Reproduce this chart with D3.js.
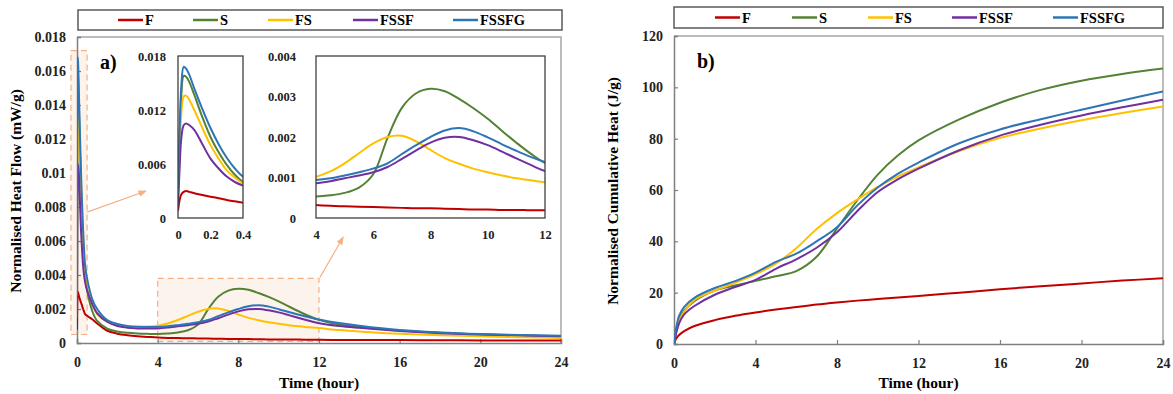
<!DOCTYPE html>
<html>
<head>
<meta charset="utf-8">
<script src="https://cdn.jsdelivr.net/npm/d3@7/dist/d3.min.js"></script>
<style>
  body { margin: 0; background: #fff; }
  svg { font-family: "Liberation Serif", "Times New Roman", serif; font-weight: bold; }
</style>
</head>
<body>
<svg id="chart" width="1173" height="394"></svg>
<script>
// series names / colours
var names = ['F', 'S', 'FS', 'FSSF', 'FSSFG'];
var colors = ['#c00000', '#548235', '#ffc000', '#7030a0', '#2e75b6'];

// a) heat flow, mW/g
var hfTime = [0, 0.01, 0.02, 0.035, 0.05, 0.07, 0.1, 0.15, 0.2, 0.25, 0.3, 0.35, 0.4,
  0.5, 0.75, 1, 1.5, 2, 2.5, 3, 3.5, 4, 4.5, 5, 5.5, 6, 6.5, 7, 7.5, 8, 8.5, 9, 9.5,
  10, 10.5, 11, 11.5, 12, 13, 14, 16, 18, 20, 22, 24];
var hfF = [0.0008, 0.0020, 0.0026, 0.0029, 0.0030, 0.0029, 0.00275, 0.00255, 0.00237, 0.0022, 0.0020, 0.00185, 0.0017,
  0.0016, 0.0014, 0.00115, 0.00072, 0.00055, 0.00046, 0.0004, 0.00036, 0.00032, 0.0003, 0.00029, 0.00028, 0.00027, 0.00026, 0.00025, 0.00024, 0.00024, 0.00023, 0.00022, 0.00021,
  0.00021, 0.0002, 0.0002, 0.00019, 0.00019, 0.00018, 0.00018, 0.00017, 0.00016, 0.00015, 0.00015, 0.00014];
var hfS = [0.0025, 0.009, 0.0135, 0.0158, 0.0157, 0.0151, 0.0137, 0.0112, 0.0090, 0.0073, 0.0059, 0.0048, 0.0040,
  0.0031, 0.0019, 0.0013, 0.00085, 0.00068, 0.0006, 0.00056, 0.00054, 0.00053, 0.00056, 0.00062, 0.00075, 0.00108, 0.00198, 0.00272, 0.00308, 0.00319, 0.00313, 0.00294, 0.00271,
  0.00245, 0.00215, 0.00186, 0.00159, 0.00136, 0.00109, 0.00094, 0.00074, 0.0006, 0.0005, 0.00043, 0.00038];
var hfFS = [0.002, 0.0075, 0.0115, 0.0135, 0.0136, 0.0131, 0.0120, 0.0100, 0.0081, 0.0066, 0.0053, 0.0045, 0.00385,
  0.0032, 0.0023, 0.0017, 0.00125, 0.00105, 0.00097, 0.00095, 0.00097, 0.00102, 0.00115, 0.00135, 0.0016, 0.00184, 0.002, 0.00203, 0.00189, 0.00168, 0.00148, 0.00134, 0.00122,
  0.00113, 0.00105, 0.00098, 0.00093, 0.00088, 0.00076, 0.00067, 0.00054, 0.00045, 0.00039, 0.00034, 0.0003];
var hfFSSF = [0.0015, 0.0055, 0.0088, 0.0103, 0.0105, 0.0103, 0.0098, 0.0082, 0.0066, 0.0055, 0.0046, 0.0040, 0.0036,
  0.0031, 0.0023, 0.00175, 0.00125, 0.001, 0.0009, 0.00086, 0.00085, 0.00086, 0.00091, 0.00098, 0.00105, 0.00113, 0.00126, 0.00146, 0.00167, 0.00186, 0.00198, 0.002, 0.00192,
  0.0018, 0.00164, 0.00147, 0.00131, 0.00116, 0.001, 0.00089, 0.0007, 0.00058, 0.0005, 0.00045, 0.0004];
var hfFSSFG = [0.0028, 0.0095, 0.0145, 0.0168, 0.0166, 0.0159, 0.0144, 0.0121, 0.0100, 0.0082, 0.0067, 0.0055, 0.0046,
  0.0038, 0.0026, 0.0020, 0.00135, 0.00112, 0.0010, 0.00095, 0.00094, 0.00094, 0.00098, 0.00105, 0.00113, 0.00122, 0.00135, 0.00158, 0.0018, 0.002, 0.00216, 0.00222, 0.00214,
  0.00199, 0.00182, 0.00166, 0.00151, 0.00138, 0.00117, 0.00101, 0.00076, 0.00062, 0.00053, 0.00047, 0.00042];

// b) cumulative heat, J/g
var chTime = [0, 0.1, 0.25, 0.5, 1, 2, 3, 4, 5, 6, 7, 8, 9, 10, 11, 12, 14, 16, 18, 20, 22, 24];
var chF = [0, 2.0, 3.5, 5.0, 7.0, 9.3, 11.0, 12.3, 13.4, 14.4, 15.4, 16.2, 16.9, 17.5, 18.1, 18.7, 20.0, 21.3, 22.5, 23.6, 24.7, 25.6];
var chS = [0, 5, 9.5, 13, 16.7, 20.8, 22.8, 24.6, 26.4, 28.4, 34, 45, 56, 66, 73.5, 79.3, 87.5, 94, 99, 102.6, 105.2, 107.3];
var chFS = [0, 5, 9, 12.5, 17.2, 20.8, 23.8, 27.2, 31.3, 37.3, 44.8, 51, 56.3, 61.2, 65.3, 68.8, 75.2, 80.3, 84, 87.2, 90, 92.5];
var chFSSF = [0, 4, 8, 11.5, 14.8, 19.2, 22.2, 25, 29.3, 33, 37.5, 43.5, 51.8, 59.2, 64.2, 68.3, 75.5, 81.2, 85.4, 89, 92.2, 95.2];
var chFSSFG = [0, 6, 11, 14.5, 18, 21.8, 24.5, 27.8, 32, 35.2, 40, 45.5, 54, 61, 66.4, 70.7, 78.2, 83.6, 87.6, 91.3, 94.9, 98.4];

// ticks
var timeTicks = [0, 4, 8, 12, 16, 20, 24];
var hfTicks = [0, 0.002, 0.004, 0.006, 0.008, 0.01, 0.012, 0.014, 0.016, 0.018];
var chTicks = [0, 20, 40, 60, 80, 100, 120];
var in1XTicks = [0, 0.2, 0.4], in1YTicks = [0, 0.006, 0.012, 0.018];
var in2XTicks = [4, 6, 8, 10, 12], in2YTicks = [0, 0.001, 0.002, 0.003, 0.004];

var hfSeries = [hfF, hfS, hfFS, hfFSSF, hfFSSFG];
var chSeries = [chF, chS, chFS, chFSSF, chFSSFG];

var svg = d3.select('#chart');
var fmt = function (v) { return String(+v.toFixed(4)); };
var axisCol = '#7f7f7f', frameCol = '#a6a6a6', hiCol = '#f4b183';

function pts(time, vals) {
  return time.map(function (t, i) { return [t, vals[i]]; });
}

function drawLines(g, x, y, time, series, width, clipId) {
  var line = d3.line()
    .x(function (d) { return x(d[0]); })
    .y(function (d) { return y(d[1]); })
    .curve(d3.curveCatmullRom.alpha(0.5));
  var lg = g.append('g').attr('clip-path', 'url(#' + clipId + ')');
  series.forEach(function (s, i) {
    lg.append('path')
      .attr('d', line(pts(time, s)))
      .attr('fill', 'none')
      .attr('stroke', colors[i])
      .attr('stroke-width', width)
      .attr('stroke-linejoin', 'round');
  });
}

function addClip(id, x, y) {
  svg.append('clipPath').attr('id', id).append('rect')
    .attr('x', x.range()[0]).attr('y', y.range()[1] - 2)
    .attr('width', x.range()[1] - x.range()[0]).attr('height', y.range()[0] - y.range()[1] + 2);
}

function legend(x0, x1, y0, y1, slots) {
  var g = svg.append('g');
  g.append('rect').attr('x', x0).attr('y', y0).attr('width', x1 - x0).attr('height', y1 - y0)
    .attr('fill', '#fff').attr('stroke', '#595959').attr('stroke-width', 1.5);
  var ym = (y0 + y1) / 2;
  names.forEach(function (n, i) {
    var sx = slots[i];
    g.append('line').attr('x1', sx).attr('x2', sx + 25).attr('y1', ym).attr('y2', ym)
      .attr('stroke', colors[i]).attr('stroke-width', 2.5);
    g.append('text').attr('x', sx + 27).attr('y', ym + 5).attr('font-size', 14.5).text(n);
  });
}

function mainPanel(x, y, yTicks, yFmt, yTitle, label, clipId) {
  var g = svg.append('g');
  var xr = x.range(), yr = y.range();
  // plot frame
  g.append('path').attr('d', 'M' + xr[0] + ',' + yr[1] + 'H' + xr[1] + 'V' + yr[0])
    .attr('fill', 'none').attr('stroke', frameCol).attr('stroke-width', 1.5);
  addClip(clipId, x, y);
  var ax = g.append('g').attr('transform', 'translate(0,' + yr[0] + ')')
    .call(d3.axisBottom(x).tickValues(timeTicks).tickSize(-4).tickPadding(14).tickFormat(fmt));
  var ay = g.append('g').attr('transform', 'translate(' + xr[0] + ',0)')
    .call(d3.axisLeft(y).tickValues(yTicks).tickSize(-4).tickPadding(11).tickFormat(yFmt));
  [ax, ay].forEach(function (a) {
    a.select('.domain').attr('stroke', axisCol).attr('stroke-width', 1.5);
    a.selectAll('.tick line').attr('stroke', axisCol).attr('stroke-width', 1.2);
    a.selectAll('text').attr('font-size', 14).attr('fill', '#222')
      .attr('font-family', '"Liberation Serif", serif').attr('font-weight', 'bold');
  });
  g.append('text').attr('x', (xr[0] + xr[1]) / 2).attr('y', 388).attr('text-anchor', 'middle')
    .attr('font-size', 15.5).text('Time (hour)');
  g.append('text').attr('transform', 'translate(' + (xr[0] - 56) + ',' + ((yr[0] + yr[1]) / 2 + 1) + ') rotate(-90)')
    .attr('text-anchor', 'middle').attr('font-size', 15.5).text(yTitle);
  g.append('text').attr('x', xr[0] + 23).attr('y', yr[1] + 32).attr('font-size', 20).text(label);
  return g;
}

function inset(x, y, xTicks, yTicks, clipId, yPad) {
  var g = svg.append('g');
  var xr = x.range(), yr = y.range();
  g.append('rect').attr('x', xr[0]).attr('y', yr[1]).attr('width', xr[1] - xr[0]).attr('height', yr[0] - yr[1])
    .attr('fill', '#fff');
  addClip(clipId, x, y);
  drawLines(g, x, y, hfTime, hfSeries, 2, clipId);
  g.append('rect').attr('x', xr[0]).attr('y', yr[1]).attr('width', xr[1] - xr[0]).attr('height', yr[0] - yr[1])
    .attr('fill', 'none').attr('stroke', '#404040').attr('stroke-width', 1.3);
  var ax = g.append('g').attr('transform', 'translate(0,' + yr[0] + ')')
    .call(d3.axisBottom(x).tickValues(xTicks).tickSize(0).tickPadding(12).tickFormat(fmt));
  var ay = g.append('g').attr('transform', 'translate(' + xr[0] + ',0)')
    .call(d3.axisLeft(y).tickValues(yTicks).tickSize(0).tickPadding(yPad).tickFormat(fmt));
  [ax, ay].forEach(function (a) {
    a.select('.domain').remove();
    a.selectAll('text').attr('font-size', 12.5).attr('fill', '#222')
      .attr('font-family', '"Liberation Serif", serif').attr('font-weight', 'bold');
  });
}

// ---- panel a)
var xA = d3.scaleLinear().domain([0, 24]).range([77, 561]);
var yA = d3.scaleLinear().domain([0, 0.018]).range([343, 37]);
var gA = mainPanel(xA, yA, hfTicks, fmt, 'Normalised Heat Flow (mW/g)', 'a)', 'clipA');

// highlighted zoom regions
var defs = svg.append('defs');
defs.append('marker').attr('id', 'arr').attr('viewBox', '0 0 10 10').attr('refX', 9).attr('refY', 5)
  .attr('markerWidth', 7).attr('markerHeight', 7).attr('orient', 'auto')
  .append('path').attr('d', 'M0,1L10,5L0,9Z').attr('fill', hiCol);

var r1 = { x0: xA(-0.3), x1: xA(0.5), y0: yA(0.0172), y1: yA(0.0005) };
var r2 = { x0: xA(4), x1: xA(12), y0: yA(0.0038), y1: yA(0.0001) };
[r1, r2].forEach(function (r) {
  gA.insert('rect', ':first-child').attr('x', r.x0).attr('y', r.y0).attr('width', r.x1 - r.x0).attr('height', r.y1 - r.y0)
    .attr('fill', '#fbe5d6').attr('fill-opacity', 0.45)
    .attr('stroke', hiCol).attr('stroke-width', 1.2).attr('stroke-dasharray', '6,4');
});
drawLines(gA, xA, yA, hfTime, hfSeries, 2, 'clipA');

var xI1 = d3.scaleLinear().domain([0, 0.4]).range([178, 243]);
var yI1 = d3.scaleLinear().domain([0, 0.018]).range([218, 56]);
var xI2 = d3.scaleLinear().domain([4, 12]).range([316, 545]);
var yI2 = d3.scaleLinear().domain([0, 0.004]).range([218, 56]);

svg.append('line').attr('x1', r1.x1).attr('y1', yA(0.0077)).attr('x2', xI1(0) - 32).attr('y2', yI1(0.003))
  .attr('stroke', hiCol).attr('stroke-width', 1.2).attr('marker-end', 'url(#arr)');
svg.append('line').attr('x1', r2.x1 + 1).attr('y1', r2.y0 - 1).attr('x2', xI2(4.95)).attr('y2', yI2(0) + 19)
  .attr('stroke', hiCol).attr('stroke-width', 1.2).attr('marker-end', 'url(#arr)');

inset(xI1, yI1, in1XTicks, in1YTicks, 'clipI1', 12);
inset(xI2, yI2, in2XTicks, in2YTicks, 'clipI2', 20);

legend(78, 562, 10, 30, [118, 193, 268, 353, 453]);

// ---- panel b)
var xB = d3.scaleLinear().domain([0, 24]).range([674, 1163]);
var yB = d3.scaleLinear().domain([0, 120]).range([344, 36]);
var gB = mainPanel(xB, yB, chTicks, fmt, 'Normalised Cumulative Heat (J/g)', 'b)', 'clipB');
drawLines(gB, xB, yB, chTime, chSeries, 2, 'clipB');

legend(674, 1163, 7, 28, [715, 792, 868, 952, 1053]);
</script>
</body>
</html>
